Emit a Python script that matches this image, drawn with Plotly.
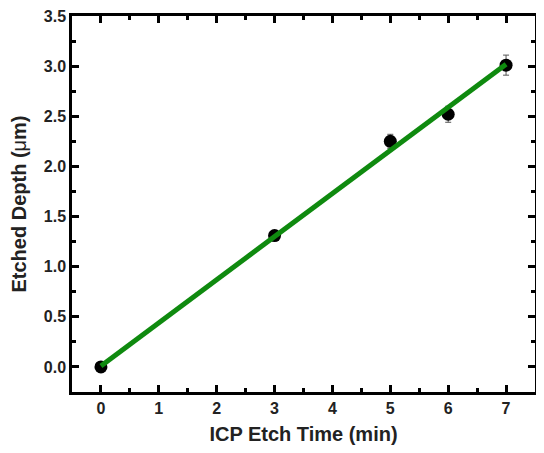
import plotly.graph_objects as go

time_min = [0, 3, 5, 6, 7]
depth_um = [0.0, 1.31, 2.25, 2.52, 3.01]
depth_err = [0.0, 0.03, 0.07, 0.08, 0.10]
fit_x = [0, 7]
fit_y = [0.01, 3.02]

fig = go.Figure()
fig.add_trace(go.Scatter(
    x=time_min, y=depth_um, mode="markers",
    marker=dict(color="black", size=13),
    error_y=dict(type="data", array=depth_err, visible=True, color="#555555", thickness=1, width=3),
    showlegend=False))
fig.add_trace(go.Scatter(
    x=fit_x, y=fit_y, mode="lines",
    line=dict(color="#0f8a0f", width=5), showlegend=False))

tf = dict(family="Liberation Sans, Arial", size=16, color="#222222")
title_font = dict(family="Liberation Sans, Arial", size=20, color="#222222")
axis_common = dict(
    showline=True, linecolor="black", linewidth=2.5, mirror="ticks",
    ticks="inside", ticklen=7, tickwidth=2.5, tickcolor="black",
    showgrid=False, zeroline=False, automargin=False,
    ticklabeloverflow="allow",
    tickfont=tf, tickprefix="<b>", ticksuffix="</b>",
)
fig.update_xaxes(
    range=[-0.5, 7.5], dtick=1, tick0=0,
    minor=dict(ticks="inside", ticklen=4, tickwidth=2.5, tickcolor="black", dtick=0.5, tick0=0),
    title=dict(text="<b>ICP Etch Time (min)</b>", font=title_font, standoff=14),
    **axis_common)
fig.update_yaxes(
    range=[-0.25, 3.5], dtick=0.5, tick0=0, tickformat=".1f",
    minor=dict(ticks="inside", ticklen=4, tickwidth=2.5, tickcolor="black", dtick=0.25, tick0=0),
    title=dict(text="<b>Etched Depth (</b>μ<b>m)</b>", font=title_font, standoff=12),
    **axis_common)
# page body has an 8px margin, so the figure is sized to fit the 544x453 window
fig.update_layout(
    width=528, height=437,
    margin=dict(l=64, r=1, t=8, b=53),
    plot_bgcolor="white", paper_bgcolor="white",
    font=tf,
)
fig.write_html("out.html")
